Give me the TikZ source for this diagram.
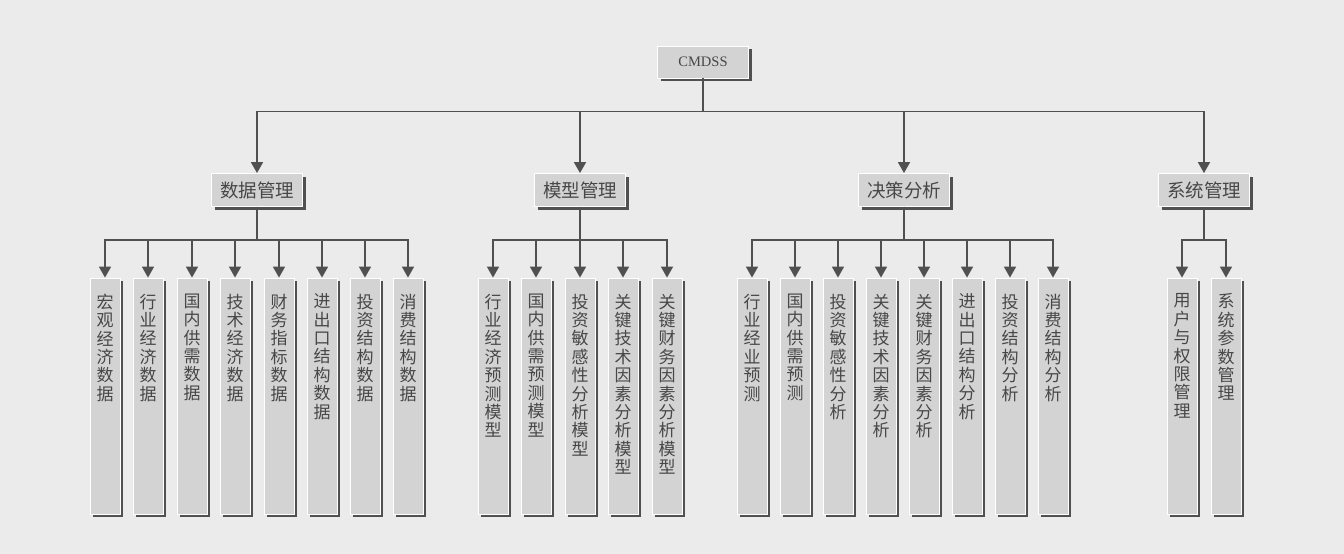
\documentclass[tikz,border=0pt]{standalone}
\usepackage{fontspec}
\setmainfont{Liberation Serif}
\newfontfamily\cjk{Noto Sans CJK SC}
\usetikzlibrary{arrows.meta}
\usetikzlibrary{shadows}
\definecolor{bggray}{HTML}{EBEBEB}
\definecolor{boxgray}{HTML}{D3D3D3}
\definecolor{edgegray}{HTML}{505050}
\definecolor{inkgray}{HTML}{474747}

\tikzset{
    box/.style={draw=white, line width=0.8pt, fill=boxgray, inner sep=0pt, text=inkgray,
        drop shadow={shadow xshift=3pt, shadow yshift=-3pt, fill=edgegray, opacity=1}},
    head/.style={box, minimum width=91pt, minimum height=33pt, font=\cjk\fontsize{18.5}{20}\selectfont},
    leaftext/.style={anchor=north, yshift=-16pt, inner sep=0pt, align=center, text=inkgray,
        font=\cjk\fontsize{17}{18.4}\selectfont},
    leaf/.style={box, minimum width=30pt, minimum height=236pt, label={[leaftext]north:#1}},
    link/.style={draw=edgegray, line width=1.6pt, -{Triangle[width=12pt,length=11pt]}},
}

\begin{document}
\begin{tikzpicture}[x=1pt,y=-1pt]
\fill[bggray] (0,0) rectangle (1344,554);
\useasboundingbox (0,0) rectangle (1344,554);

\node[box, minimum width=91pt, minimum height=32pt, font=\fontsize{14.5}{16}\selectfont] (root) at (703,62) {CMDSS};

\node[head] (data) at (257,190) {数据管理};
\node[head] (model) at (580,190) {模型管理};
\node[head] (decide) at (904,190) {决策分析};
\node[head] (sysm) at (1204,190) {系统管理};

\node[leaf={宏\\观\\经\\济\\数\\据}] (d1) at (105,396) {};
\node[leaf={行\\业\\经\\济\\数\\据}] (d2) at (148,396) {};
\node[leaf={国\\内\\供\\需\\数\\据}] (d3) at (192,396) {};
\node[leaf={技\\术\\经\\济\\数\\据}] (d4) at (235,396) {};
\node[leaf={财\\务\\指\\标\\数\\据}] (d5) at (279,396) {};
\node[leaf={进\\出\\口\\结\\构\\数\\据}] (d6) at (322,396) {};
\node[leaf={投\\资\\结\\构\\数\\据}] (d7) at (365,396) {};
\node[leaf={消\\费\\结\\构\\数\\据}] (d8) at (408,396) {};

\node[leaf={行\\业\\经\\济\\预\\测\\模\\型}] (m1) at (493,396) {};
\node[leaf={国\\内\\供\\需\\预\\测\\模\\型}] (m2) at (536,396) {};
\node[leaf={投\\资\\敏\\感\\性\\分\\析\\模\\型}] (m3) at (580,396) {};
\node[leaf={关\\键\\技\\术\\因\\素\\分\\析\\模\\型}] (m4) at (623,396) {};
\node[leaf={关\\键\\财\\务\\因\\素\\分\\析\\模\\型}] (m5) at (667,396) {};

\node[leaf={行\\业\\经\\业\\预\\测}] (a1) at (752,396) {};
\node[leaf={国\\内\\供\\需\\预\\测}] (a2) at (795,396) {};
\node[leaf={投\\资\\敏\\感\\性\\分\\析}] (a3) at (838,396) {};
\node[leaf={关\\键\\技\\术\\因\\素\\分\\析}] (a4) at (881,396) {};
\node[leaf={关\\键\\财\\务\\因\\素\\分\\析}] (a5) at (924,396) {};
\node[leaf={进\\出\\口\\结\\构\\分\\析}] (a6) at (967,396) {};
\node[leaf={投\\资\\结\\构\\分\\析}] (a7) at (1010,396) {};
\node[leaf={消\\费\\结\\构\\分\\析}] (a8) at (1053,396) {};

\node[leaf={用\\户\\与\\权\\限\\管\\理}] (s1) at (1182,396) {};
\node[leaf={系\\统\\参\\数\\管\\理}] (s2) at (1226,396) {};

\draw[link] (root.south) -- ++(0,33) -| (data.north);
\draw[link] (root.south) -- ++(0,33) -| (model.north);
\draw[link] (root.south) -- ++(0,33) -| (decide.north);
\draw[link] (root.south) -- ++(0,33) -| (sysm.north);

\draw[link] (data.south) -- ++(0,33) -| (d1.north);
\draw[link] (data.south) -- ++(0,33) -| (d2.north);
\draw[link] (data.south) -- ++(0,33) -| (d3.north);
\draw[link] (data.south) -- ++(0,33) -| (d4.north);
\draw[link] (data.south) -- ++(0,33) -| (d5.north);
\draw[link] (data.south) -- ++(0,33) -| (d6.north);
\draw[link] (data.south) -- ++(0,33) -| (d7.north);
\draw[link] (data.south) -- ++(0,33) -| (d8.north);

\draw[link] (model.south) -- ++(0,33) -| (m1.north);
\draw[link] (model.south) -- ++(0,33) -| (m2.north);
\draw[link] (model.south) -- ++(0,33) -| (m3.north);
\draw[link] (model.south) -- ++(0,33) -| (m4.north);
\draw[link] (model.south) -- ++(0,33) -| (m5.north);

\draw[link] (decide.south) -- ++(0,33) -| (a1.north);
\draw[link] (decide.south) -- ++(0,33) -| (a2.north);
\draw[link] (decide.south) -- ++(0,33) -| (a3.north);
\draw[link] (decide.south) -- ++(0,33) -| (a4.north);
\draw[link] (decide.south) -- ++(0,33) -| (a5.north);
\draw[link] (decide.south) -- ++(0,33) -| (a6.north);
\draw[link] (decide.south) -- ++(0,33) -| (a7.north);
\draw[link] (decide.south) -- ++(0,33) -| (a8.north);

\draw[link] (sysm.south) -- ++(0,33) -| (s1.north);
\draw[link] (sysm.south) -- ++(0,33) -| (s2.north);
\end{tikzpicture}
\end{document}
